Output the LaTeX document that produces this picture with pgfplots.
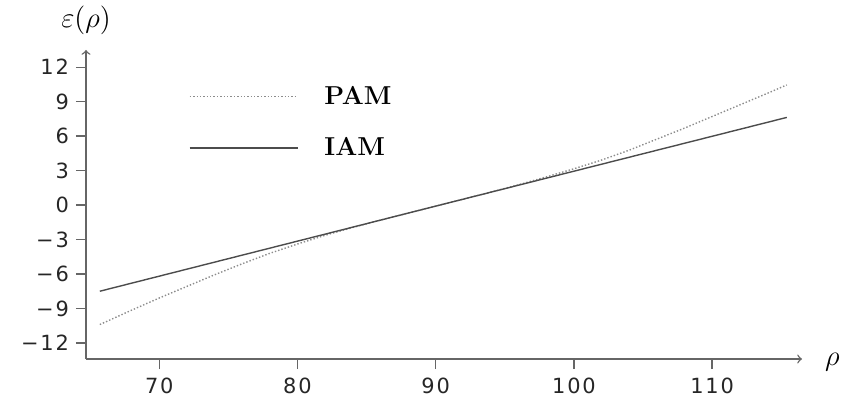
\documentclass[border=0pt]{standalone}
\usepackage{fontspec}
\usepackage{pgfplots}
\pgfplotsset{compat=1.18}
\newfontfamily\tickfont[LetterSpace=9]{DejaVu Sans}
\begin{document}
\begin{tikzpicture}
\begin{axis}[
  scale only axis,
  width=358bp, height=154.5bp,
  xmin=64.7, xmax=116.5,
  ymin=-13.4, ymax=13.5,
  axis lines=left,
  axis line style={black!60, line width=0.7pt, ->},
  xtick={70,80,...,110},
  xticklabels={70,80,90,100,110},
  ytick={-12,-9,...,12},
  yticklabels={−12,−9,−6,−3,0,3,6,9,12},
  tick align=outside,
  major tick length=5bp,
  tick style={black!60, line width=0.7pt},
  tick label style={font=\tickfont\fontsize{10.5}{12}\selectfont, text=black!85},
  xticklabel style={yshift=-1bp},
  xlabel={$\rho$},
  ylabel={$\varepsilon(\rho)$},
  label style={font=\Large},
  xlabel style={at={(axis description cs:1,0)}, anchor=west, xshift=8bp, yshift=-1.5bp},
  ylabel style={at={(axis description cs:0,1)}, anchor=south, rotate=-90, yshift=4bp},
  legend style={draw=none, fill=none, at={(axis description cs:0.135,0.91)}, anchor=north west,
    font=\fontsize{13}{15}\selectfont\bfseries, row sep=11bp, column sep=11bp},
  legend cell align=left,
  legend image code/.code={\draw[#1] (0bp,0bp) -- (54bp,0bp);},
]
\coordinate (bl) at (rel axis cs:0,0);
\addplot[black!45, densely dotted, line width=0.7pt] coordinates {
(65.7,-10.40) (68,-9.15) (70,-8.09) (72,-7.08) (74,-6.07) (76,-5.11) (78,-4.20)
(80,-3.39) (82,-2.63) (84,-1.95) (86,-1.31) (88,-0.70) (90,-0.09) (92,0.52)
(94,1.13) (96,1.77) (98,2.45) (100,3.16) (102,3.92) (104,4.78) (106,5.74)
(108,6.70) (110,7.71) (112,8.72) (114,9.73) (115.4,10.46)};
\addlegendentry{PAM}
\addplot[black!70, line width=0.7pt] coordinates {
(65.7,-7.50) (90.3,0) (115.4,7.63)};
\addlegendentry{IAM}
\end{axis}
\pgfresetboundingbox
\path ([shift={(-43bp,-20bp)}]bl) rectangle ([shift={(379.5bp,179.5bp)}]bl);
\end{tikzpicture}
\end{document}
